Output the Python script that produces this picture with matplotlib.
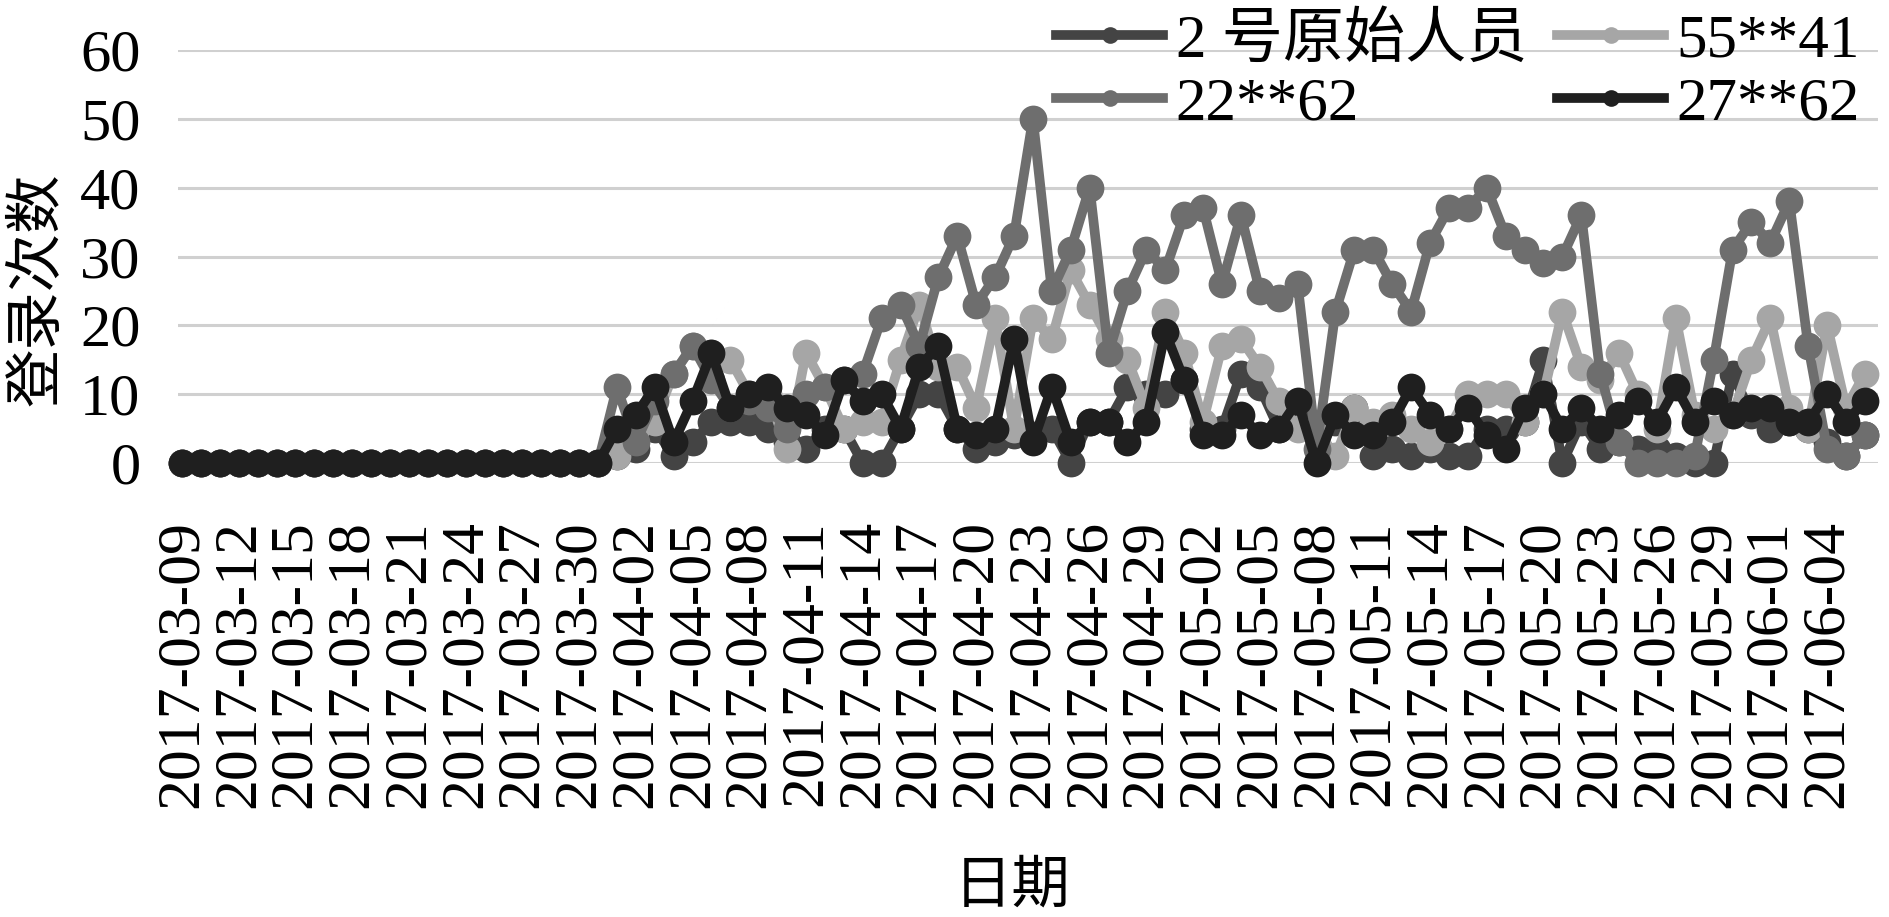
import matplotlib
matplotlib.use("Agg")
import matplotlib.pyplot as plt
from matplotlib.lines import Line2D
import pandas as pd

# ---------------- data ----------------
dates = pd.date_range("2017-03-09", "2017-06-06", freq="D")

series_names = ["2 号原始人员", "55**41", "22**62", "27**62"]

s_2hao = [0, 0, 0, 0, 0, 0, 0, 0, 0, 0, 0, 0, 0, 0, 0, 0, 0, 0, 0, 0, 0, 0, 0,
          1, 2, 5, 1, 3, 6, 6, 6, 5, 3,
          2, 5, 5, 0, 0, 5, 10, 10, 5, 2,
          3, 4, 4, 5, 0, 6, 6, 11, 10, 10,
          12, 5, 5, 13, 11, 5, 6, 4, 6, 8,
          1, 2, 1, 2, 1, 1, 5, 5, 6, 15,
          0, 6, 2, 3, 2, 2, 1, 0, 0, 13,
          7, 5, 6, 5, 3, 1, 4]

s_5541 = [0, 0, 0, 0, 0, 0, 0, 0, 0, 0, 0, 0, 0, 0, 0, 0, 0, 0, 0, 0, 0, 0, 0,
          1, 5, 6, 13, 17, 16, 15, 10, 10, 2,
          16, 11, 5, 6, 6, 15, 23, 14, 14, 8,
          21, 5, 21, 18, 28, 23, 18, 15, 8, 22,
          16, 6, 17, 18, 14, 9, 5, 5, 1, 8,
          6, 7, 5, 3, 5, 10, 10, 10, 6, 10,
          22, 14, 12, 16, 10, 5, 21, 7, 5, 7,
          15, 21, 8, 5, 20, 8, 13]

s_2262 = [0, 0, 0, 0, 0, 0, 0, 0, 0, 0, 0, 0, 0, 0, 0, 0, 0, 0, 0, 0, 0, 0, 0,
          11, 3, 9, 13, 17, 12, 8, 9, 8, 5,
          10, 11, 12, 13, 21, 23, 17, 27, 33, 23,
          27, 33, 50, 25, 31, 40, 16, 25, 31, 28,
          36, 37, 26, 36, 25, 24, 26, 2, 22, 31,
          31, 26, 22, 32, 37, 37, 40, 33, 31, 29,
          30, 36, 13, 3, 0, 0, 0, 1, 15, 31,
          35, 32, 38, 17, 2, 1, 4]

s_2762 = [0, 0, 0, 0, 0, 0, 0, 0, 0, 0, 0, 0, 0, 0, 0, 0, 0, 0, 0, 0, 0, 0, 0,
          5, 7, 11, 3, 9, 16, 8, 10, 11, 8,
          7, 4, 12, 9, 10, 5, 14, 17, 5, 4,
          5, 18, 3, 11, 3, 6, 6, 3, 6, 19,
          12, 4, 4, 7, 4, 5, 9, 0, 7, 4,
          4, 6, 11, 7, 5, 8, 4, 2, 8, 10,
          5, 8, 5, 7, 9, 6, 11, 6, 9, 7,
          8, 8, 6, 6, 10, 6, 9]

y_ticks = [0, 10, 20, 30, 40, 50, 60]

colors = ["#444444", "#a6a6a6", "#6e6e6e", "#1f1f1f"]
all_series = [s_2hao, s_5541, s_2262, s_2762]

# ---------------- style ----------------
LATIN_CJK = ["Liberation Serif", "Noto Sans CJK SC", "DejaVu Sans"]
plt.rcParams["font.family"] = LATIN_CJK

W, H = 1890, 917
fig = plt.figure(figsize=(W / 100, H / 100), dpi=100)

ax_left, ax_right = 178, 1878
ax_top, ax_bottom = 50, 463
ax = fig.add_axes([ax_left / W, 1 - ax_bottom / H,
                   (ax_right - ax_left) / W, (ax_bottom - ax_top) / H])

x = list(range(len(dates)))
for vals, c, name in zip(all_series, colors, series_names):
    ax.plot(x, vals, color=c, lw=7, marker="o", markersize=20,
            markeredgewidth=0, label=name, clip_on=False, zorder=3,
            solid_joinstyle="round")

ax.set_ylim(0, 60)
ax.set_xlim(-0.21, 89.69)
ax.set_yticks(y_ticks)
ax.grid(axis="y", color="#d0d0d0", lw=2.2, zorder=0)
ax.set_axisbelow(True)
for sp in ax.spines.values():
    sp.set_visible(False)

tick_idx = list(range(0, len(dates), 3))
ax.set_xticks(tick_idx)
ax.set_xticklabels([dates[i].strftime("%Y-%m-%d") for i in tick_idx],
                   rotation=90, fontsize=44.5)
ax.tick_params(axis="x", length=0, pad=41)
ax.tick_params(axis="y", length=0, pad=27, labelsize=43.5)

fig.text(37 / W, 1 - 289 / H, "登录次数", rotation=90, ha="center",
         va="center", fontsize=42, family=["Noto Sans CJK SC", "DejaVu Sans"])
fig.text(1012 / W, 1 - 886 / H, "日期", ha="center", va="center",
         fontsize=42, family=["Noto Sans CJK SC", "DejaVu Sans"])

# legend: row-wise order 2号, 55**41 / 22**62, 27**62
handles = [Line2D([], [], color=c, lw=7, marker="o", markersize=12,
                  markeredgewidth=0) for c in colors]
order = [0, 2, 1, 3]
leg = fig.legend([handles[i] for i in order], [series_names[i] for i in order],
                 ncol=2, loc="upper right",
                 bbox_to_anchor=(1860 / W, 1 - 13 / H),
                 frameon=False, fontsize=44, handlelength=1.75,
                 handletextpad=0.2, columnspacing=0.5, labelspacing=0.12,
                 borderpad=0, borderaxespad=0)

fig.savefig("out.png", dpi=100)
